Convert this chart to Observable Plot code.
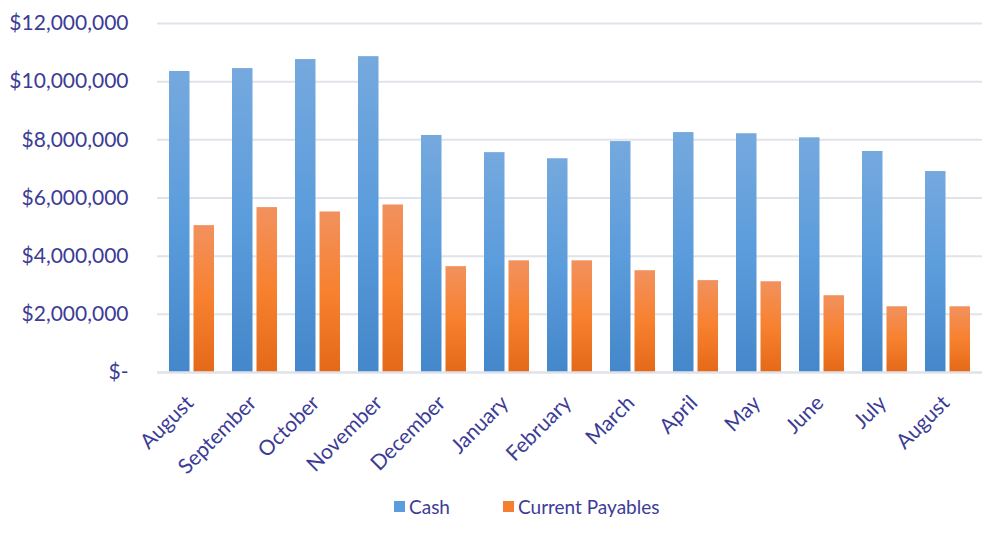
<!DOCTYPE html>
<html>
<head>
<meta charset="utf-8">
<script src="https://cdn.jsdelivr.net/npm/d3@7"></script>
<script src="https://cdn.jsdelivr.net/npm/@observablehq/plot@0.6"></script>
<style>
  body { margin: 0; background: #fff; font-family: Lato, "Open Sans", sans-serif; }
  #chart svg { display: block; }
  .legend { position: relative; height: 52px; width: 983px; color: #3c3c96; font-size: 19px; }
  .legend .item { position: absolute; top: 0; height: 52px; display: flex; align-items: center; }
  .legend .sw { width: 11px; height: 11px; margin-right: 4px; }
</style>
</head>
<body>
<div id="chart"></div>
<script>
const months = ["August","September","October","November","December","January","February","March","April","May","June","July","August"];
const cash = [10350000,10450000,10760000,10860000,8150000,7560000,7350000,7940000,8250000,8210000,8070000,7600000,6910000];
const payables = [5050000,5670000,5520000,5760000,3640000,3840000,3840000,3500000,3160000,3120000,2640000,2260000,2260000];
const yTicks = [0,2000000,4000000,6000000,8000000,10000000,12000000];
const seriesNames = ["Cash","Current Payables"];

const data = months.map((m, i) => ({i, month: m, cash: cash[i], pay: payables[i]}));
const fmt = d3.format(",");

const plot = Plot.plot({
  width: 983,
  height: 480,
  marginLeft: 157,
  marginRight: 1,
  marginTop: 23,
  marginBottom: 108,
  style: {fontFamily: "Lato, 'Open Sans', sans-serif", color: "#3c3c96", background: "#fff"},
  x: {type: "band", domain: d3.range(months.length), paddingInner: 0.29, paddingOuter: 0.145, label: null},
  y: {domain: [0, 12000000], label: null},
  marks: [
    Plot.ruleY(yTicks.filter(d => d > 0), {stroke: "#e0e3ea", strokeWidth: 2}),
    Plot.barY(data, {x: "i", y: "cash", fill: "url(#gradCash)", insetRight: 24.5}),
    Plot.barY(data, {x: "i", y: "pay", fill: "url(#gradPay)", insetLeft: 24.5}),
    Plot.ruleY([0], {stroke: "#dfe2e8", strokeWidth: 2.5}),
    Plot.axisY({ticks: yTicks, tickSize: 0, tickPadding: 29, fontSize: 21, tickFormat: d => d === 0 ? "$-" : "$" + fmt(d)}),
    Plot.axisX({tickSize: 0, tickRotate: -45, fontSize: 21, tickPadding: 27, dx: -2, tickFormat: i => months[i]})
  ]
});

const svg = d3.select(plot);
const defs = svg.insert("defs", ":first-child");
function grad(id, stops) {
  const g = defs.append("linearGradient").attr("id", id).attr("x1", 0).attr("y1", 0).attr("x2", 0).attr("y2", 1);
  stops.forEach(([o, c]) => g.append("stop").attr("offset", o).attr("stop-color", c));
}
grad("gradCash", [[0, "#75a9de"], [0.5, "#5b9cdc"], [1, "#4487ca"]]);
grad("gradPay", [[0, "#f2915e"], [0.5, "#f7812f"], [1, "#e46918"]]);

document.getElementById("chart").appendChild(plot);

const legend = document.createElement("div");
legend.className = "legend";
const items = [{name: seriesNames[0], color: "#5b9cdc", left: 394}, {name: seriesNames[1], color: "#f47f30", left: 503}];
items.forEach(it => {
  const d = document.createElement("div");
  d.className = "item";
  d.style.left = it.left + "px";
  const sw = document.createElement("span");
  sw.className = "sw";
  sw.style.background = it.color;
  const t = document.createElement("span");
  t.textContent = it.name;
  d.appendChild(sw); d.appendChild(t);
  legend.appendChild(d);
});
document.body.appendChild(legend);
</script>
</body>
</html>
